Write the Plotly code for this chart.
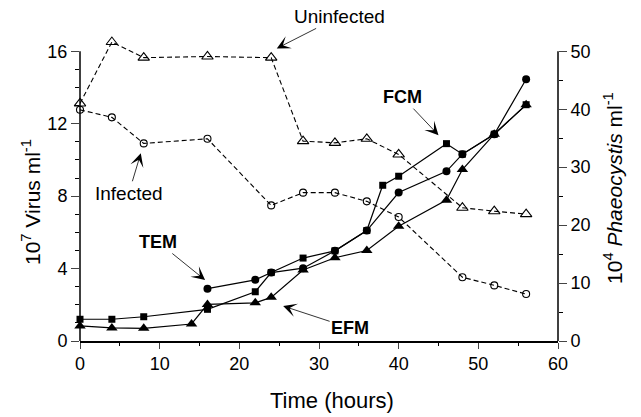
import plotly.graph_objects as go

# Phaeocystis (right axis, 10^4 ml^-1)
phaeo_time = [0, 4, 8, 16, 24, 28, 32, 36, 40, 48, 52, 56]
uninfected = [41.0, 51.6, 48.9, 49.1, 48.9, 34.5, 34.2, 34.9, 32.2, 23.0, 22.4, 21.9]
infected = [39.9, 38.6, 34.1, 34.9, 23.4, 25.6, 25.6, 24.1, 21.4, 11.0, 9.6, 8.1]

# Virus (left axis, 10^7 ml^-1)
tem_time = [16, 22, 24, 28, 32, 36, 40, 46, 48, 52, 56]
tem = [2.89, 3.38, 3.78, 4.02, 4.98, 6.1, 8.2, 9.37, 10.32, 11.42, 14.46]
fcm_time = [0, 4, 8, 16, 22, 24, 28, 32, 36, 38, 40, 46, 48, 52, 56]
fcm = [1.2, 1.2, 1.34, 1.75, 2.72, 3.78, 4.58, 4.98, 6.1, 8.6, 9.1, 10.9, 10.32, 11.42, 13.05]
efm_time = [0, 4, 8, 14, 16, 22, 24, 28, 32, 36, 40, 46, 48, 52, 56]
efm = [0.83, 0.72, 0.70, 0.94, 2.02, 2.11, 2.41, 3.92, 4.6, 5.0, 6.34, 7.78, 9.47, 11.42, 13.05]

x_ticks = [0, 10, 20, 30, 40, 50, 60]
left_ticks = [0, 4, 8, 12, 16]
right_ticks = [0, 10, 20, 30, 40, 50]

FONT = "Arial, Liberation Sans, sans-serif"
LEFT_TOP = 16.9
RIGHT_TOP = LEFT_TOP * 50 / 16

fig = go.Figure()

dash = "5px,3px"
fig.add_trace(go.Scatter(x=phaeo_time, y=uninfected, yaxis="y2", mode="lines+markers",
                         line=dict(color="black", width=1.1, dash=dash),
                         marker=dict(symbol="triangle-up-open", size=10, color="black", line=dict(width=1.1)),
                         cliponaxis=False, name="Uninfected"))
fig.add_trace(go.Scatter(x=phaeo_time, y=infected, yaxis="y2", mode="lines+markers",
                         line=dict(color="black", width=1.1, dash=dash),
                         marker=dict(symbol="circle-open", size=7, color="black", line=dict(width=1.1)),
                         cliponaxis=False, name="Infected"))

fig.add_trace(go.Scatter(x=efm_time, y=efm, mode="lines+markers",
                         line=dict(color="black", width=1.2),
                         marker=dict(symbol="triangle-up", size=10, color="black"),
                         cliponaxis=False, name="EFM"))
fig.add_trace(go.Scatter(x=fcm_time, y=fcm, mode="lines+markers",
                         line=dict(color="black", width=1.2),
                         marker=dict(symbol="square", size=7, color="black"),
                         cliponaxis=False, name="FCM"))
fig.add_trace(go.Scatter(x=tem_time, y=tem, mode="lines+markers",
                         line=dict(color="black", width=1.2),
                         marker=dict(symbol="circle", size=8, color="black"),
                         cliponaxis=False, name="TEM"))

tick_font = dict(family=FONT, size=18, color="black")
title_font = dict(family=FONT, size=21, color="black")

fig.update_layout(
    width=641, height=417,
    margin=dict(l=80, r=83, t=34.7, b=76),
    paper_bgcolor="white", plot_bgcolor="white",
    showlegend=False,
    font=dict(family=FONT, color="black"),
    xaxis=dict(range=[0, 60], tickvals=x_ticks, ticks="outside", ticklen=6, tickwidth=1.2,
               showline=True, linecolor="black", linewidth=1.5, showgrid=False, zeroline=False,
               tickfont=tick_font,
               minor=dict(dtick=5, ticks="outside", ticklen=3, tickwidth=1, tickcolor="black")),
    yaxis=dict(range=[0, LEFT_TOP], tickvals=left_ticks, ticks="outside", ticklen=8, tickwidth=1.2,
               showline=False, showgrid=False, zeroline=False, tickfont=tick_font,
               minor=dict(tickvals=[1, 2, 3, 5, 6, 7, 9, 10, 11, 13, 14, 15], ticks="outside", ticklen=4,
                          tickwidth=1, tickcolor="black")),
    yaxis2=dict(range=[0, RIGHT_TOP], tickvals=right_ticks, ticks="outside", ticklen=8, tickwidth=1.2,
                overlaying="y", side="right", showline=False, showgrid=False, zeroline=False,
                tickfont=tick_font,
                minor=dict(tickvals=[5, 15, 25, 35, 45], ticks="outside", ticklen=4, tickwidth=1,
                           tickcolor="black")),
)

# axis titles placed as in the reference
fig.add_annotation(xref="paper", yref="paper", x=-0.102, y=0.455, xanchor="center", yanchor="middle",
                   textangle=-90, showarrow=False, font=title_font,
                   text="10<sup>7</sup> Virus ml<sup>-1</sup>")
fig.add_annotation(xref="paper", yref="paper", x=1.115, y=0.5, xanchor="center", yanchor="middle",
                   textangle=-90, showarrow=False, font=title_font,
                   text="10<sup>4</sup> <i>Phaeocystis</i> ml<sup>-1</sup>")
fig.add_annotation(xref="paper", yref="paper", x=0.527, y=-0.195, xanchor="center", yanchor="middle",
                   showarrow=False, font=dict(family=FONT, size=22, color="black"),
                   text="Time (hours)")

# axis lines stopping at the top tick
fig.add_shape(type="line", xref="paper", yref="y", x0=0, x1=0, y0=0, y1=16,
              line=dict(color="black", width=1.5))
fig.add_shape(type="line", xref="paper", yref="y", x0=1, x1=1, y0=0, y1=16,
              line=dict(color="black", width=1.5))

ann_plain = dict(family=FONT, size=19, color="black")
ann_bold = dict(family=FONT, size=18, color="black", weight="bold")
arrow = dict(showarrow=True, arrowhead=3, arrowsize=2.8, arrowwidth=0.8, arrowcolor="black")

fig.add_annotation(x=24.7, y=50.5, yref="y2", ax=63, ay=-32, text="Uninfected", font=ann_plain, **arrow)
fig.add_annotation(x=7.63, y=32.4, yref="y2", ax=-12, ay=40, text="Infected", font=ann_plain, **arrow)
fig.add_annotation(x=45.0, y=11.37, yref="y", ax=-36, ay=-38, text="FCM", font=ann_bold, **arrow)
fig.add_annotation(x=15.7, y=3.37, yref="y", ax=-47, ay=-38, text="TEM", font=ann_bold, **arrow)
fig.add_annotation(x=25.5, y=1.93, yref="y", ax=67, ay=22, text="EFM", font=ann_bold, **arrow)

fig.write_html("out.html", config={"displayModeBar": False},
               post_script="document.body.style.margin='0';")
